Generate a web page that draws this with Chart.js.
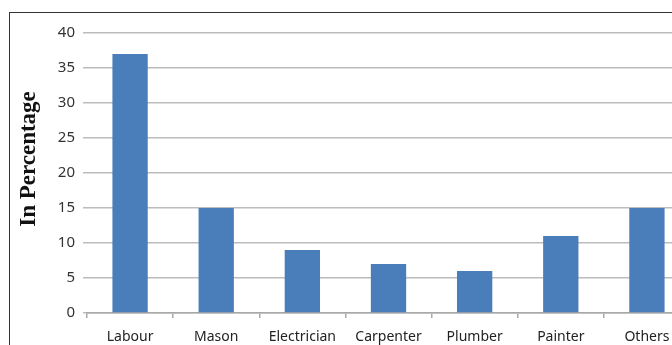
<!DOCTYPE html>
<html>
<head>
<meta charset="utf-8">
<script src="https://cdn.jsdelivr.net/npm/chart.js@4"></script>
<style>
  html, body { margin: 0; padding: 0; background: #fff; overflow: hidden; width: 672px; height: 345px; }
  #frame { position: absolute; left: 9px; top: 12px; width: 760px; height: 400px; border: 1.5px solid #333; box-sizing: border-box; }
  #wrap { position: absolute; left: 0; top: 0; width: 700px; height: 360px; }
</style>
</head>
<body>
<div id="frame"></div>
<div id="wrap"><canvas id="chart"></canvas></div>
<script>
// Dữ liệu
const categories = ['Labour', 'Mason', 'Electrician', 'Carpenter', 'Plumber', 'Painter', 'Others'];
const percentValues = [37, 15, 9, 7, 6, 11, 15];
const yTicks = [0, 5, 10, 15, 20, 25, 30, 35, 40];
const yTitle = 'In Percentage';

// Vẽ tiêu đề trục Y bằng tay để căn vị trí như bản gốc
const yTitlePlugin = {
  id: 'yTitle',
  afterDraw(chart) {
    const ctx = chart.ctx;
    ctx.save();
    ctx.translate(29, 159);
    ctx.rotate(-Math.PI / 2);
    ctx.font = 'bold 23px "Liberation Serif", "DejaVu Serif", serif';
    ctx.fillStyle = '#111';
    ctx.textAlign = 'center';
    ctx.textBaseline = 'middle';
    ctx.fillText(yTitle, 0, 0);
    ctx.restore();
  }
};

new Chart(document.getElementById('chart'), {
  type: 'bar',
  data: {
    labels: categories,
    datasets: [{
      data: percentValues,
      backgroundColor: '#4a7ebb',
      borderWidth: 0,
      categoryPercentage: 1,
      barPercentage: 0.41
    }]
  },
  options: {
    responsive: true,
    maintainAspectRatio: false,
    animation: false,
    layout: { padding: { top: 33, right: 10, left: 0, bottom: 0 } },
    plugins: {
      legend: { display: false },
      tooltip: { enabled: false }
    },
    scales: {
      x: {
        afterFit(scale) { scale.height = 47; },
        grid: { drawOnChartArea: false, drawTicks: true, tickLength: 5, color: '#a8a8a8', lineWidth: 1.5, offset: true },
        border: { display: true, color: '#a8a8a8', width: 1.5 },
        ticks: { color: '#222', padding: 11, font: { family: '"Noto Sans", sans-serif', size: 14 }, maxRotation: 0 }
      },
      y: {
        min: 0,
        max: 40,
        afterFit(scale) { scale.width = 87; },
        afterBuildTicks(scale) { scale.ticks = yTicks.map(v => ({ value: v })); },
        grid: { color: '#bcbcbc', lineWidth: 1.5, tickLength: 4 },
        border: { display: false },
        ticks: { color: '#333', padding: 8, font: { family: '"Noto Sans", sans-serif', size: 15 } }
      }
    }
  },
  plugins: [yTitlePlugin]
});
</script>
</body>
</html>
